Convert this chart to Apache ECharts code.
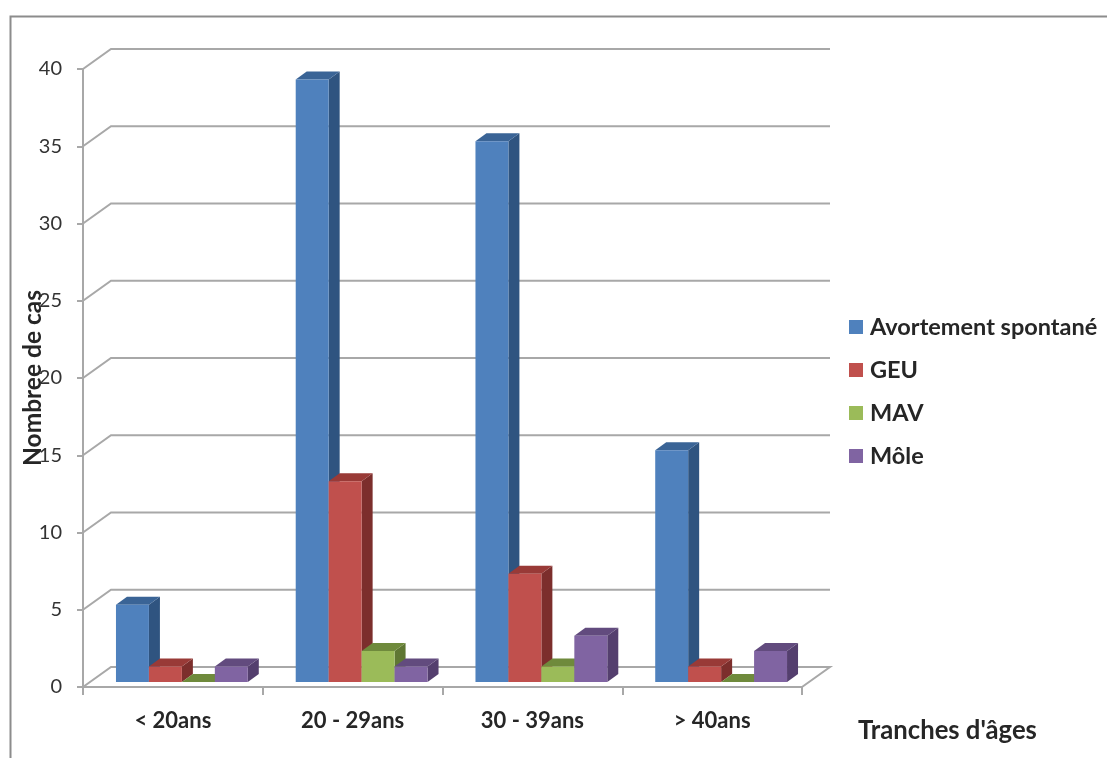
<!DOCTYPE html>
<html><head><meta charset="utf-8">
<style>html,body{margin:0;padding:0;background:#fff}#c{width:1107px;height:758px}</style>
<script src="https://cdn.jsdelivr.net/npm/echarts@6/dist/echarts.min.js"></script>
</head><body><div id="c"></div>
<script>
const categories = ['< 20ans', '20 - 29ans', '30 - 39ans', '> 40ans'];
const avortement = [5, 39, 35, 15];
const geu = [1, 13, 7, 1];
const mav = [0, 2, 1, 0];
const mole = [1, 1, 3, 2];
const gridTicks = [0, 5, 10, 15, 20, 25, 30, 35, 40];
const seriesNames = ['Avortement spontané', 'GEU', 'MAV', 'Môle'];
const seriesValues = [avortement, geu, mav, mole];
const faceColors = ['#4F81BD', '#C0504D', '#9BBB59', '#8064A2'];
const topColors = ['#3A6496', '#993A37', '#6F8A3C', '#624B7E'];
const sideColors = ['#2F5480', '#7C2E2C', '#5F7733', '#543F6E'];

const FONT = 'Lato';
const GRID = { left: 83, top: 69, width: 719, height: 618 };
const WALL_DX = 28, WALL_DY = -20;      // perspective offset of back wall
const BAR_DX = 11, BAR_DY = -8;         // bar depth
const BAR_FRAC = 33 / 180;              // bar width / category band
const GROUP_SHIFT = 9, BASE_LIFT = 5;   // bars stand slightly behind the front edge

function wallItem(params, api) {
  const v = api.value(0);
  const band = api.size([1, 0])[0];
  const pL = api.coord([0, v]);
  const pR = api.coord([categories.length - 1, v]);
  const x0 = pL[0] - band / 2, x1 = pR[0] + band / 2, y = pL[1];
  const pts = v === 0
    ? [[x0, y], [x0 + WALL_DX, y + WALL_DY], [x1 + WALL_DX, y + WALL_DY], [x1, y]]
    : [[x0, y], [x0 + WALL_DX, y + WALL_DY], [x1 + WALL_DX, y + WALL_DY]];
  return { type: 'polyline', shape: { points: pts }, silent: true,
           style: { fill: null, stroke: '#A8A8A8', lineWidth: 2 } };
}

function barItem(idx) {
  return function (params, api) {
    const cat = api.value(0), val = api.value(1);
    const band = api.size([1, 0])[0];
    const w = band * BAR_FRAC;
    const c = api.coord([cat, val]);
    const b = api.coord([cat, 0]);
    const x = c[0] + (idx - 2) * w + GROUP_SHIFT;
    const yT = c[1] - BASE_LIFT, yB = b[1] - BASE_LIFT;
    const children = [];
    if (val > 0) {
      children.push({ type: 'polygon', shape: { points: [[x + w, yT], [x + w + BAR_DX, yT + BAR_DY], [x + w + BAR_DX, yB + BAR_DY], [x + w, yB]] },
        style: { fill: sideColors[idx] } });
    }
    children.push({ type: 'polygon', shape: { points: [[x, yT], [x + BAR_DX, yT + BAR_DY], [x + w + BAR_DX, yT + BAR_DY], [x + w, yT]] },
      style: { fill: topColors[idx] } });
    if (val > 0) {
      children.push({ type: 'rect', shape: { x: x, y: yT, width: w, height: yB - yT },
        style: { fill: faceColors[idx] } });
    }
    return { type: 'group', children };
  };
}

const chart = echarts.init(document.getElementById('c'), null, { renderer: 'canvas' });
chart.setOption({
  animation: false,
  backgroundColor: '#fff',
  grid: Object.assign({ containLabel: false, outerBoundsMode: 'none' }, GRID),
  title: {
    text: "Tranches d'âges", left: 858, top: 716, padding: 0,
    textStyle: { fontFamily: FONT, fontWeight: 'bold', fontSize: 25.7, color: '#262626', lineHeight: 30 }
  },
  legend: {
    data: seriesNames.map((n, i) => ({ name: n, icon: 'rect', itemStyle: { color: faceColors[i] } })),
    orient: 'vertical', left: 844, top: 310, itemWidth: 14, itemHeight: 14, itemGap: 19,
    selectedMode: false,
    textStyle: { fontFamily: FONT, fontWeight: 'bold', fontSize: 23.5, color: '#262626', padding: [0, 0, 0, 2], lineHeight: 23 }
  },
  xAxis: {
    type: 'category', data: categories, boundaryGap: true,
    axisLine: { show: true, lineStyle: { color: '#A8A8A8', width: 2 } },
    axisTick: { show: true, length: 8, lineStyle: { color: '#A8A8A8', width: 2 } },
    axisLabel: { fontFamily: FONT, fontWeight: 'bold', fontSize: 22, color: '#262626', margin: 23 }
  },
  yAxis: {
    type: 'value', min: 0, max: 40, interval: 5,
    name: 'Nombree de cas', nameLocation: 'middle', nameGap: 37, nameRotate: 90, nameMoveOverlap: false,
    nameTextStyle: { fontFamily: FONT, fontWeight: 'bold', fontSize: 24.5, color: '#262626' },
    splitLine: { show: false },
    axisLine: { show: true, lineStyle: { color: '#A8A8A8', width: 2 } },
    axisTick: { show: true, length: 6, lineStyle: { color: '#A8A8A8', width: 2 } },
    axisLabel: { fontFamily: FONT, fontSize: 20, color: '#333333', margin: 21 }
  },
  series: [
    { type: 'custom', name: 'walls', z: 1, silent: true, renderItem: wallItem,
      coordinateSystem: 'cartesian2d', data: gridTicks.map(v => [v]), encode: { y: 0 } }
  ].concat(seriesNames.map((n, i) => ({
    type: 'custom', name: n, z: 2 + i, renderItem: barItem(i),
    coordinateSystem: 'cartesian2d', itemStyle: { color: faceColors[i] },
    data: seriesValues[i].map((v, k) => [k, v]), encode: { x: 0, y: 1 }
  }))),
  graphic: [
    { type: 'polyline', silent: true, z: 0,
      shape: { points: [[10.5, 758], [10.5, 16.5], [1107, 16.5]] },
      style: { fill: null, stroke: '#8C8C8C', lineWidth: 2 } }
  ]
});
</script></body></html>
